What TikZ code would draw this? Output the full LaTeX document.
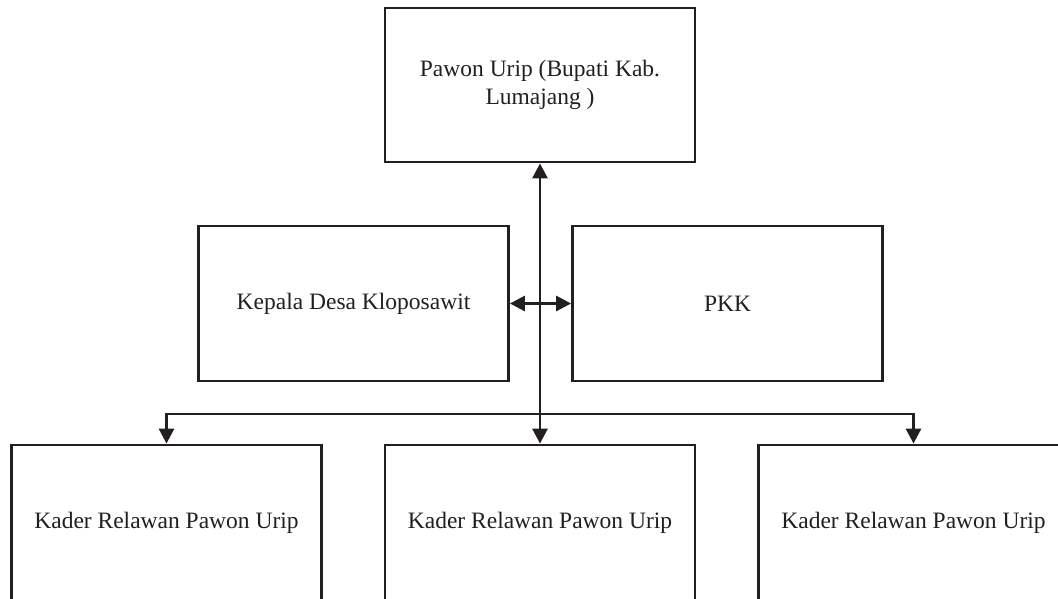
\documentclass[tikz,border=0pt]{standalone}
\usepackage{fontspec}
\setmainfont{Liberation Serif}
\usetikzlibrary{arrows.meta}
\definecolor{ink}{HTML}{231F20}
\tikzset{
  box/.style={draw=ink, line width=2.8pt, minimum width=310pt, minimum height=155pt,
    inner sep=0pt, align=center, text=ink, font=\fontsize{23.5}{24}\selectfont},
  conn/.style={draw=ink, line width=2.8pt, arrows={-Triangle[width=15pt,length=15pt]}},
  dconn/.style={draw=ink, line width=2.8pt, arrows={Triangle[width=15pt,length=15pt]-Triangle[width=15pt,length=15pt]}}
}
\begin{document}
\begin{tikzpicture}[x=1pt,y=-1pt]
\useasboundingbox (0,0) rectangle (1058,598);
\clip (0,0) rectangle (1058,598);
\node[box, minimum height=154pt] (top) at (540,85) {Pawon Urip (Bupati Kab.\\[4pt]Lumajang )};
\node[box] (ml) at (353.5,303.5) {Kepala Desa Kloposawit};
\node[box] (mr) at (727.5,303.5) {PKK};
\node[box] (bl) at (166.5,522.5) {Kader Relawan Pawon Urip};
\node[box] (bm) at (540,522.5) {Kader Relawan Pawon Urip};
\node[box] (br) at (913.5,522.5) {Kader Relawan Pawon Urip};
\coordinate (j) at (540,414);
\draw[dconn] (top.south) -- (bm.north);
\draw[dconn] (ml.east) -- (mr.west);
\draw[conn] (j) -| (bl.north);
\draw[conn] (j) -| (br.north);
\end{tikzpicture}
\end{document}
